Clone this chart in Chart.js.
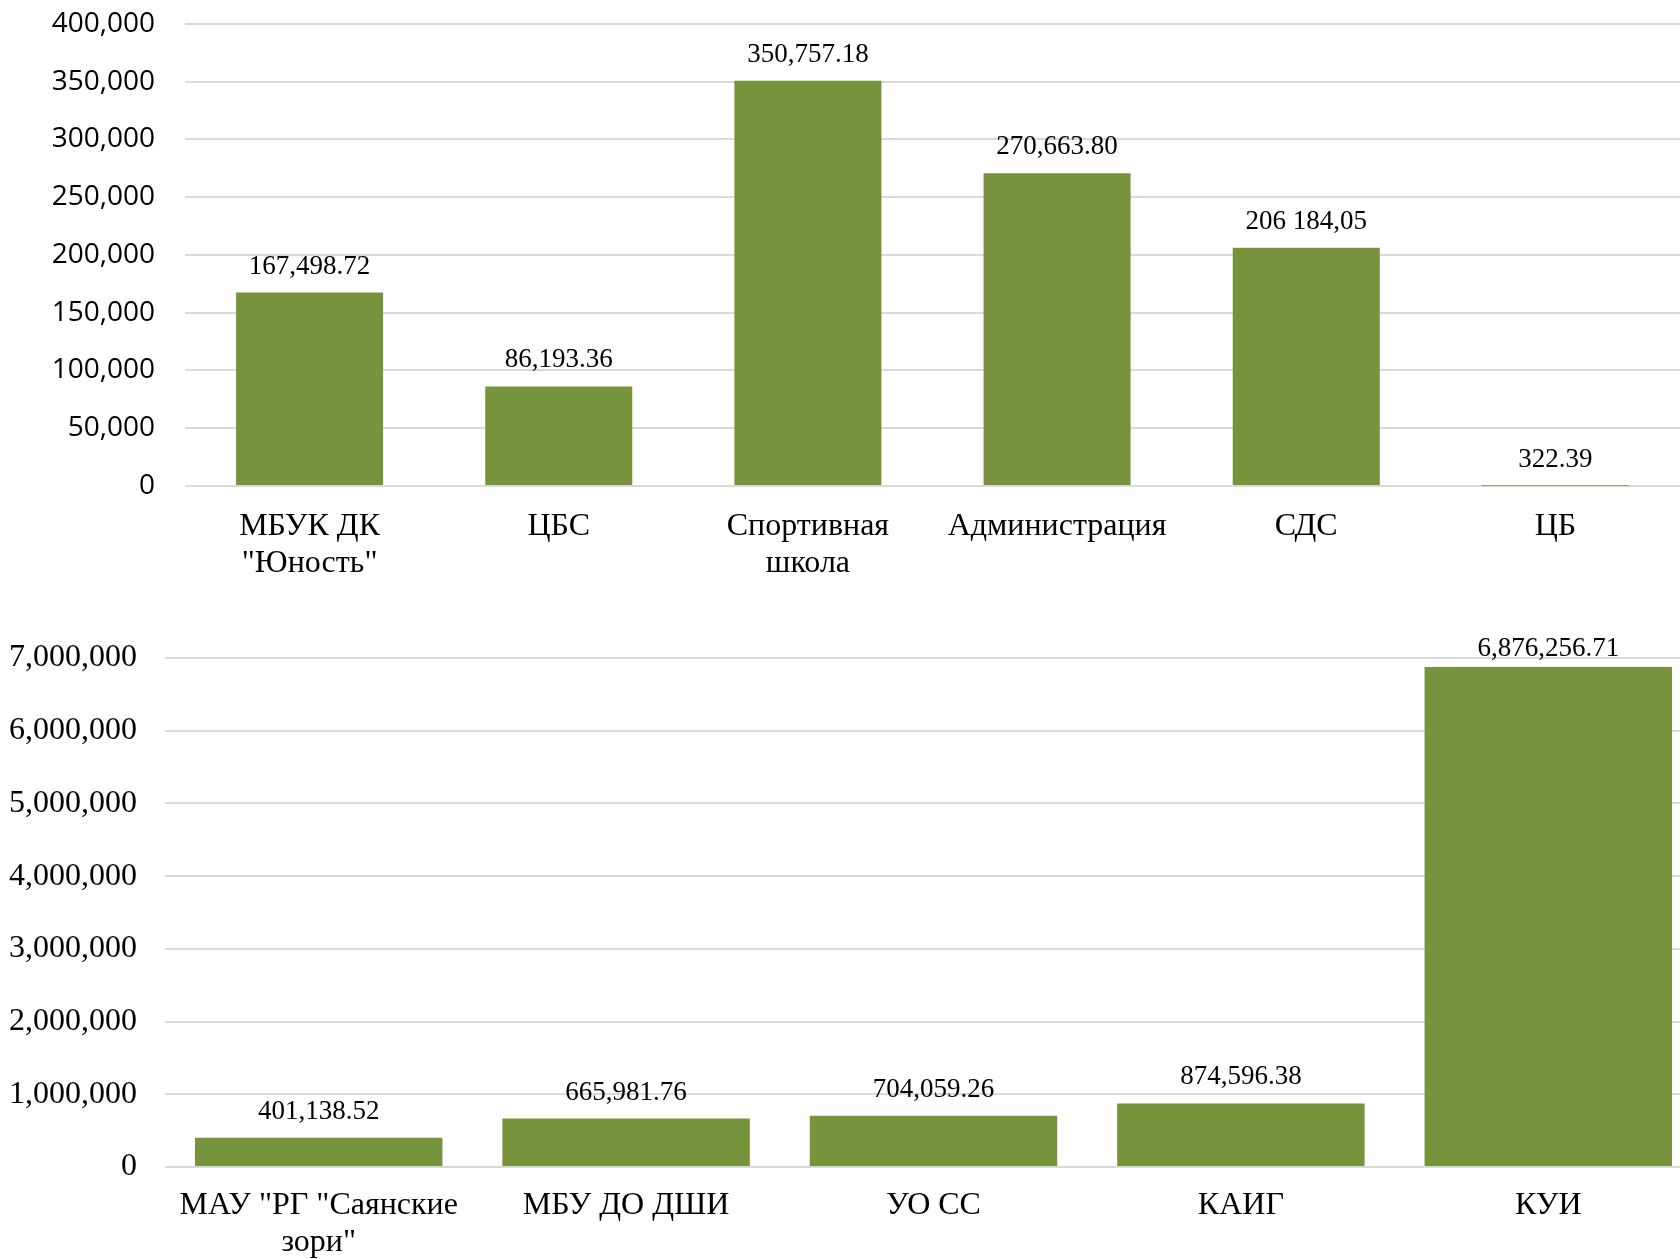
<!DOCTYPE html>
<html>
<head>
<meta charset="utf-8">
<script src="https://cdn.jsdelivr.net/npm/chart.js@4"></script>
<style>
  html, body { margin: 0; padding: 0; background: #fff; overflow: hidden; }
  #top { position: absolute; left: 0; top: -23px; width: 1680px; height: 613px; }
  #bottom { position: absolute; left: 0; top: 590px; width: 1702px; height: 669px; }
</style>
</head>
<body>
<div id="top"><canvas id="topChart"></canvas></div>
<div id="bottom"><canvas id="bottomChart"></canvas></div>
<script>
/* DATA */
const topCategories = [['МБУК ДК', '"Юность"'], 'ЦБС', ['Спортивная', 'школа'], 'Администрация', 'СДС', 'ЦБ'];
const topValues = [167498.72, 86193.36, 350757.18, 270663.80, 206184.05, 322.39];
const topLabelOverrides = [null, null, null, null, '206 184,05', null];
const topTicks = { max: 400000, step: 50000 };

const bottomCategories = [['МАУ "РГ "Саянские', 'зори"'], 'МБУ ДО ДШИ', 'УО СС', 'КАИГ', 'КУИ'];
const bottomValues = [401138.52, 665981.76, 704059.26, 874596.38, 6876256.71];
const bottomTicks = { max: 7000000, step: 1000000 };

/* COLORS */
const barGreen = '#77933C';
const gridGrey = '#D9D9D9';
const textBlack = '#000000';
const serif = '"Liberation Serif", "Times New Roman", serif';
const sans = '"Open Sans", "Liberation Sans", sans-serif';

const fmt2 = (v) => v.toLocaleString('en-US', { minimumFractionDigits: 2, maximumFractionDigits: 2 });

/* PLUGIN: value labels above bars */
function makeBarLabels(values, overrides, font, offset) {
  return {
    id: 'barLabels',
    afterDatasetsDraw(chart) {
      const ctx = chart.ctx;
      const meta = chart.getDatasetMeta(0);
      ctx.save();
      ctx.font = font;
      ctx.fillStyle = textBlack;
      ctx.textAlign = 'center';
      ctx.textBaseline = 'middle';
      meta.data.forEach((bar, i) => {
        const txt = (overrides && overrides[i]) || fmt2(values[i]);
        const y = Math.max(bar.y - offset, chart.chartArea.top - 9);
        ctx.fillText(txt, bar.x, y);
      });
      ctx.restore();
    },
  };
}

function barChart(id, cfg) {
  return new Chart(document.getElementById(id), {
    type: 'bar',
    data: {
      labels: cfg.labels,
      datasets: [{
        data: cfg.values,
        backgroundColor: barGreen,
        borderWidth: 0,
        barPercentage: cfg.barPct,
        categoryPercentage: 1,
      }],
    },
    plugins: [makeBarLabels(cfg.values, cfg.overrides, '27px ' + serif, 26)],
    options: {
      responsive: true,
      maintainAspectRatio: false,
      animation: false,
      layout: { padding: cfg.padding },
      plugins: { legend: { display: false }, tooltip: { enabled: false } },
      scales: {
        x: {
          grid: { display: false, drawTicks: false },
          border: { display: false },
          ticks: {
            color: textBlack,
            font: { family: serif, size: cfg.xFont, lineHeight: 1.15 },
            padding: cfg.xPad,
            maxRotation: 0,
            autoSkip: false,
          },
          afterFit: (s) => { s.height = cfg.xHeight; },
        },
        y: {
          min: 0,
          max: cfg.ticks.max,
          grid: { color: gridGrey, lineWidth: 2, drawTicks: false },
          border: { display: false },
          ticks: {
            stepSize: cfg.ticks.step,
            color: textBlack,
            font: cfg.yFont,
            padding: cfg.yPad,
            callback: (v) => v.toLocaleString('en-US'),
          },
          afterFit: (s) => { s.width = cfg.yWidth; },
        },
      },
    },
  });
}

/* TOP CHART */
barChart('topChart', {
  labels: topCategories,
  values: topValues,
  overrides: topLabelOverrides,
  ticks: topTicks,
  barPct: 0.59,
  padding: { top: 0, right: 0, left: 0, bottom: 0 },
  xFont: 32,
  xPad: 22,
  xHeight: 104,
  yFont: { family: sans, size: 28 },
  yPad: 30,
  yWidth: 185,
});

/* BOTTOM CHART */
barChart('bottomChart', {
  labels: bottomCategories,
  values: bottomValues,
  overrides: null,
  ticks: bottomTicks,
  barPct: 0.805,
  padding: { top: 68, right: 0, left: 0, bottom: 0 },
  xFont: 32,
  xPad: 20,
  xHeight: 92,
  yFont: { family: serif, size: 32 },
  yPad: 28,
  yWidth: 165,
});
</script>
</body>
</html>
